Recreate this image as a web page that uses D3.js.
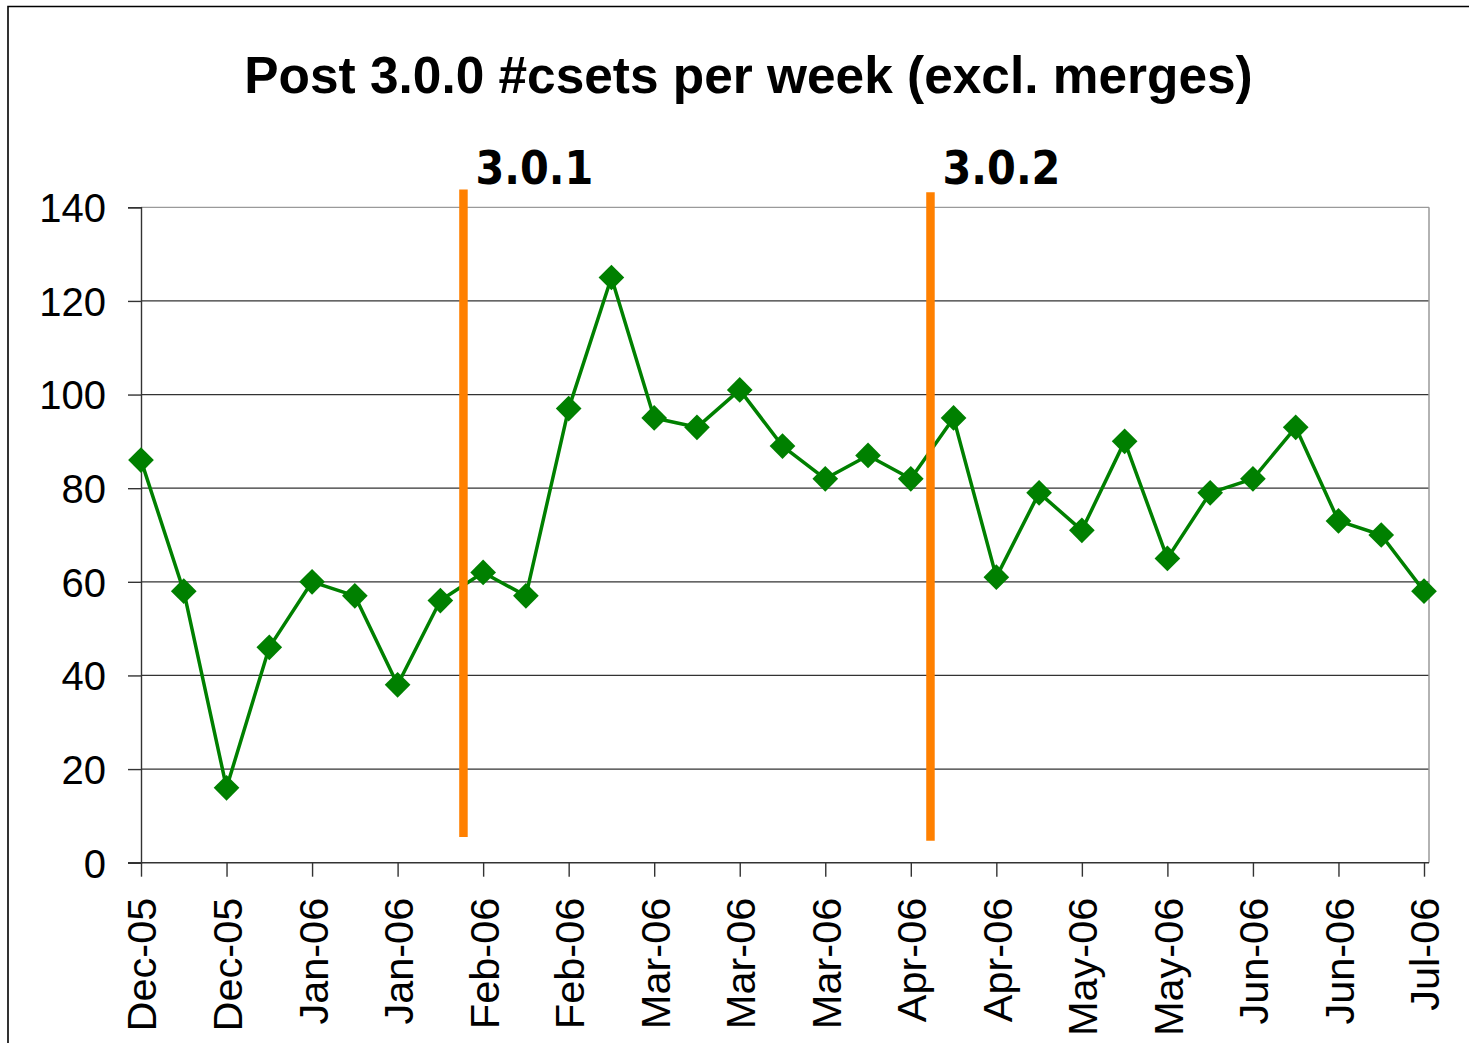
<!DOCTYPE html>
<html><head><meta charset="utf-8">
<script src="https://cdn.jsdelivr.net/npm/d3@7"></script>
<style>html,body{margin:0;padding:0;background:#fff;}svg{display:block;}</style>
</head><body>
<script>
// ---- data ----
const weekValues = [86, 58, 16, 46, 60, 57, 38, 56, 62, 57, 97, 125, 95, 93, 101, 89, 82, 87, 82, 95, 61, 79, 71, 90, 65, 79, 82, 93, 73, 70, 58];
const tickLabels = ["Dec-05","Dec-05","Jan-06","Jan-06","Feb-06","Feb-06","Mar-06","Mar-06","Mar-06","Apr-06","Apr-06","May-06","May-06","Jun-06","Jun-06","Jul-06"];
const yTicks = [0, 20, 40, 60, 80, 100, 120, 140];
const releaseNames = ["3.0.1", "3.0.2"];
const releaseAt = [7.54, 18.46];       // position in weeks (index) between points
const releaseSpan = [[5.5, 143.8], [4.7, 143.2]];
const titleText = "Post 3.0.0 #csets per week (excl. merges)";

// ---- layout ----
const W = 1469, H = 1043;
const L = 141, R = 1429, T = 207.3, B = 862.7;
const lastX = 1424;

const svg = d3.select("body").append("svg").attr("width", W).attr("height", H);
svg.append("rect").attr("width", W).attr("height", H).attr("fill", "#fff");
// outer frame
svg.append("path").attr("d", `M8,${H+5}V6.5H${W+5}`).attr("fill","none").attr("stroke","#000").attr("stroke-width",1.6);

const x = d3.scaleLinear().domain([0, weekValues.length - 1]).range([L, lastX]);
const y = d3.scaleLinear().domain([0, 140]).range([B, T]);

// gridlines
svg.append("g").selectAll("line").data(yTicks.filter(v => v > 0)).join("line")
  .attr("x1", L).attr("x2", R).attr("y1", d => y(d)).attr("y2", d => y(d))
  .attr("stroke", d => d === 140 ? "#9a9a9a" : "#333").attr("stroke-width", 1.2);
// right border
svg.append("line").attr("x1", R).attr("x2", R).attr("y1", T).attr("y2", B).attr("stroke", "#9a9a9a").attr("stroke-width", 1.5);

// y axis
const yAxis = d3.axisLeft(y).tickValues(yTicks).tickSize(13).tickPadding(22);
const gy = svg.append("g").attr("transform", `translate(${L},0)`).call(yAxis);
gy.select(".domain").attr("stroke", "#333").attr("stroke-width", 1.4);
gy.selectAll(".tick line").attr("stroke", "#333").attr("stroke-width", 1.4);
gy.selectAll("text").attr("font-family", "Liberation Sans, Arial, sans-serif").attr("font-size", 40).attr("fill", "#000").attr("dy", "0.36em");

// x axis
const tickIdx = tickLabels.map((_, i) => i * 2);
const xAxis = d3.axisBottom(x).tickValues(tickIdx).tickFormat((d, i) => tickLabels[i]).tickSize(14).tickSizeOuter(0);
const gx = svg.append("g").attr("transform", `translate(0,${B})`).call(xAxis);
gx.select(".domain").attr("d", `M${L - 13},0H${R}`).attr("stroke", "#333").attr("stroke-width", 1.4);
gx.selectAll(".tick line").attr("stroke", "#333").attr("stroke-width", 1.4);
gx.selectAll("text")
  .attr("font-family", "Liberation Sans, Arial, sans-serif").attr("font-size", 41.5).attr("fill", "#000")
  .attr("text-anchor", "end").attr("transform", "rotate(-90)")
  .attr("x", -35).attr("y", 0).attr("dy", "0.36em");

// line series
const line = d3.line().x((d, i) => x(i)).y(d => y(d));
svg.append("path").datum(weekValues).attr("d", line)
  .attr("fill", "none").attr("stroke", "#008000").attr("stroke-width", 3.5).attr("stroke-linejoin", "round");

// release markers
releaseAt.forEach((r, k) => {
  svg.append("line").attr("x1", x(r)).attr("x2", x(r))
    .attr("y1", y(releaseSpan[k][0])).attr("y2", y(releaseSpan[k][1]))
    .attr("stroke", "#ff8000").attr("stroke-width", 8.5);
});

// diamonds
const sym = d3.symbol().type(d3.symbolSquare).size(330);
svg.append("g").selectAll("path").data(weekValues).join("path")
  .attr("d", sym)
  .attr("transform", (d, i) => `translate(${x(i)},${y(d)}) rotate(45)`)
  .attr("fill", "#008000");

// release labels
releaseAt.forEach((r, k) => {
  svg.append("text").attr("x", x(r) + 12).attr("y", 184)
    .attr("font-family", "DejaVu Sans, Verdana, sans-serif").attr("font-weight", "bold")
    .attr("font-size", 46).attr("textLength", 118).attr("lengthAdjust", "spacingAndGlyphs")
    .attr("fill", "#000").text(releaseNames[k]);
});

// title
svg.append("text").attr("x", 748.5).attr("y", 93).attr("text-anchor", "middle")
  .attr("font-family", "Liberation Sans, Arial, sans-serif").attr("font-weight", "bold")
  .attr("font-size", 51.4).attr("fill", "#000").text(titleText);
</script>
</body></html>
